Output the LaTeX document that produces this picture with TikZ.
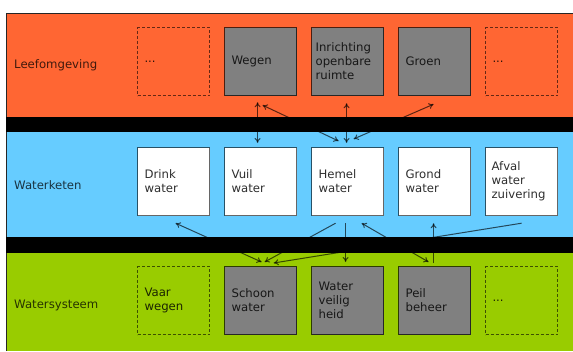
\documentclass[tikz,border=0pt]{standalone}
\usepackage{fontspec}
\setmainfont{DejaVu Sans}
\usetikzlibrary{arrows.meta,calc}
\pgfdeclarelayer{bg}\pgfdeclarelayer{arr}\pgfdeclarelayer{band}
\pgfsetlayers{bg,arr,band,main}
\definecolor{orangebg}{HTML}{FF6633}
\definecolor{bluebg}{HTML}{66CCFF}
\definecolor{greenbg}{HTML}{99CC00}
\definecolor{greybox}{HTML}{808080}
\begin{document}
\begin{tikzpicture}[x=1pt,y=-1pt,
  font=\fontsize{11.7}{14}\selectfont,
  box/.style={minimum height=68pt, text width=58pt, inner xsep=7pt, inner ysep=0pt,
    align=left, line width=1.2pt, draw=black, draw opacity=0.7, text opacity=0.82,
    anchor=north west},
  greyb/.style={box, fill=greybox},
  whiteb/.style={box, fill=white, draw opacity=0.6},
  dashb/.style={box, dash pattern=on 3pt off 2pt, line width=1pt, draw opacity=0.6},
  lbl/.style={anchor=west, inner sep=0pt, text opacity=0.75},
  link/.style={line width=1pt, draw=black, draw opacity=0.65},
  both/.style={link, {To[length=5pt,width=6pt]}-{To[length=5pt,width=6pt]}},
  one/.style={link, -{To[length=5pt,width=6pt]}}
]
\useasboundingbox (0,0) rectangle (573,351);
\begin{pgfonlayer}{bg}
  \fill[white] (0,0) rectangle (573,351);
  \fill[orangebg] (6,13) rectangle (573,117);
  \fill[bluebg] (6,117) rectangle (573,237);
  \fill[greenbg] (6,237) rectangle (573,351);
  \draw[line width=1pt, black!85] (6.5,351) -- (6.5,13.5) -- (573,13.5);
\end{pgfonlayer}
\begin{pgfonlayer}{band}
  \fill[black] (6,117) rectangle (573,132);
  \fill[black] (6,237) rectangle (573,253);
\end{pgfonlayer}

% labels
\node[lbl] (lf) at (14,65) {Leefomgeving};
\node[lbl] (wk) at (14,185) {Waterketen};
\node[lbl] (ws) at (14,305) {Watersysteem};

% top row
\node[dashb] (t1) at (137,27) {...};
\node[greyb] (t2) at (224,27) {Wegen};
\node[greyb, inner xsep=4pt, text width=64pt] (t3) at (311,27) {Inrichting\\openbare\\ruimte};
\node[greyb] (t4) at (398,27) {Groen};
\node[dashb] (t5) at (485,27) {...};

% middle row
\node[whiteb] (m1) at (137,147) {Drink\\water};
\node[whiteb] (m2) at (224,147) {Vuil\\water};
\node[whiteb] (m3) at (311,147) {Hemel\\water};
\node[whiteb] (m4) at (398,147) {Grond\\water};
\node[whiteb, inner xsep=6pt, text width=60pt] (m5) at (485,147) {Afval\\water\\zuivering};

% bottom row
\node[dashb] (b1) at (137,266) {Vaar\\wegen};
\node[greyb] (b2) at (224,266) {Schoon\\water};
\node[greyb] (b3) at (311,266) {Water\\veilig\\heid};
\node[greyb] (b4) at (398,266) {Peil\\beheer};
\node[dashb] (b5) at (485,266) {...};

\begin{pgfonlayer}{arr}
  \draw[both] ($(t2.south)+(-3,6)$) -- ($(m2.north)+(-3,-4)$);
  \draw[both] ($(m3.north)+(-9,-6)$) -- ($(t2.south)+(2,9)$);
  \draw[both] ($(m3.north)+(-1,-4)$) -- ($(t3.south)+(-1,7)$);
  \draw[both] ($(m3.north)+(6,-8)$) -- ($(t4.south)+(-1,8)$);
  \draw[both] ($(m1.south)+(2,7)$) -- ($(b2.north)+(1,-4)$);
  \draw[one] ($(m3.south)+(-12,7)$) -- ($(b2.north)+(4,-4)$);
  \draw[one] ($(m5.south)+(0,7)$) -- ($(b2.north)+(13,-3)$);
  \draw[one] ($(m3.south)+(-2,7)$) -- ($(b3.north)+(-2,-4)$);
  \draw[both] ($(m3.south)+(14,7)$) -- ($(b4.north)+(-6,-4)$);
  \draw[one] ($(b4.north)+(-1,-3)$) -- ($(m4.south)+(-1,7)$);
\end{pgfonlayer}
\end{tikzpicture}
\end{document}
